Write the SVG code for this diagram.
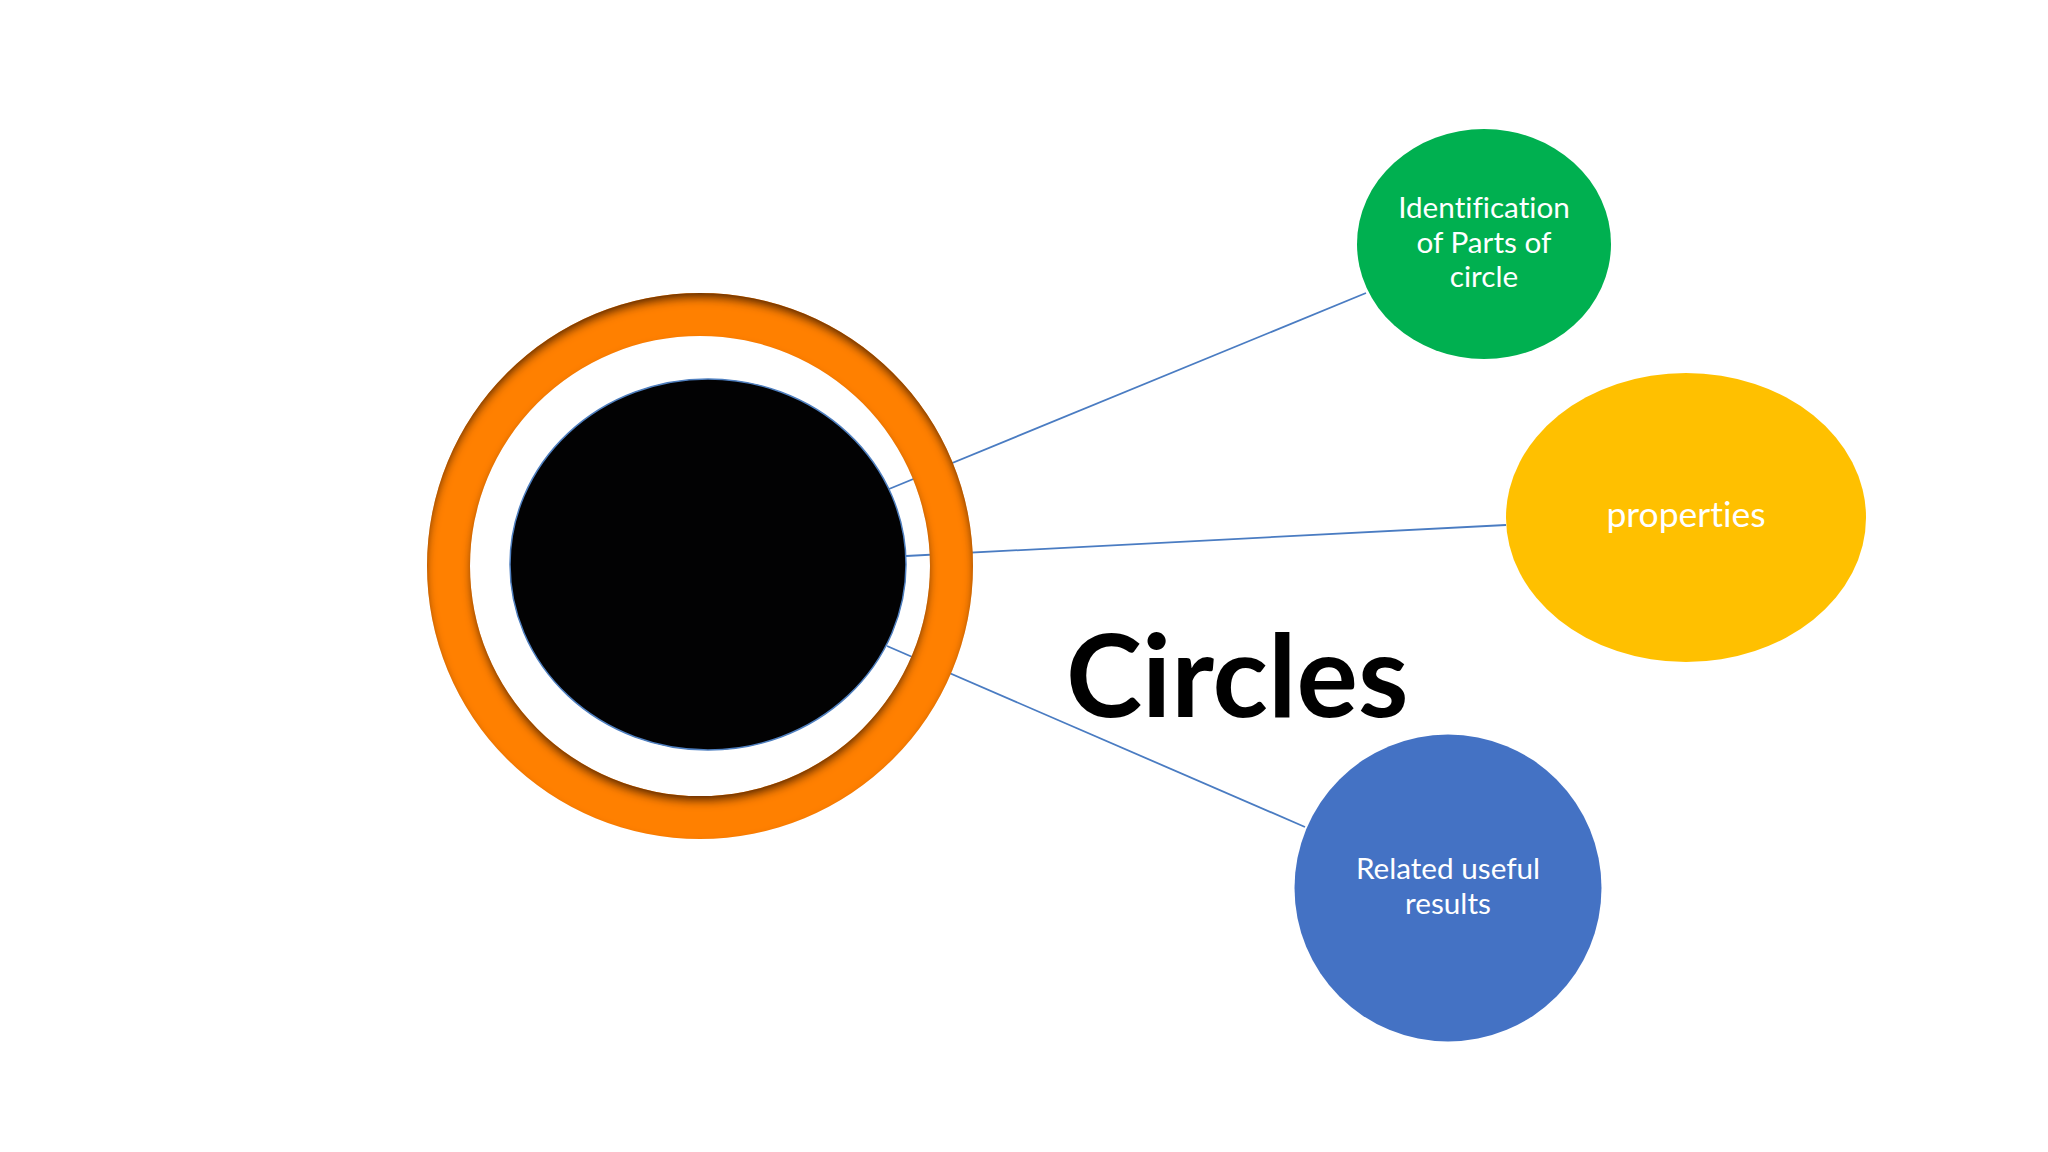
<svg xmlns="http://www.w3.org/2000/svg" width="2048" height="1152" viewBox="0 0 2048 1152">
<style>
.conn{stroke:#4A7CC2;stroke-width:1.8;fill:none}
.lbl{font-family:Lato,"Open Sans","Liberation Sans",sans-serif;font-size:29.7px;fill:#FFFFFF;text-anchor:middle;font-variant-ligatures:none;font-feature-settings:"liga" 0,"dlig" 0,"clig" 0}
.big{font-size:35.5px}
.title{font-family:Lato,"Open Sans","Liberation Sans",sans-serif;font-weight:bold;font-size:115px;fill:#000000;font-variant-ligatures:none}
</style>
<defs>
<filter id="innerShadow" x="-10%" y="-10%" width="120%" height="120%">
<feComponentTransfer in="SourceAlpha" result="inv"><feFuncA type="table" tableValues="1 0"/></feComponentTransfer>
<feGaussianBlur in="inv" stdDeviation="4"/>
<feOffset dx="0" dy="6" result="ob"/>
<feFlood flood-color="#4A2200" flood-opacity="0.95"/>
<feComposite in2="ob" operator="in"/>
<feComposite in2="SourceAlpha" operator="in" result="sh"/>
<feMerge><feMergeNode in="SourceGraphic"/><feMergeNode in="sh"/></feMerge>
</filter>
</defs>
<rect width="2048" height="1152" fill="#FFFFFF"/>
<g id="connectors">
<line class="conn" x1="889" y1="489" x2="1366" y2="293"/>
<line class="conn" x1="906" y1="556" x2="1506" y2="525"/>
<line class="conn" x1="887" y1="646" x2="1305" y2="827"/>
</g>
<g id="node-center">
<path d="M427,566 a273,273 0 1,0 546,0 a273,273 0 1,0 -546,0 Z M470,566 a230,230 0 1,1 460,0 a230,230 0 1,1 -460,0 Z" fill="#FF8000" fill-rule="evenodd" filter="url(#innerShadow)"/>
<ellipse cx="708" cy="564.5" rx="198" ry="185.5" fill="#020203" stroke="#4F7FBF" stroke-width="1.5"/>
</g>
<g id="node-identification">
<ellipse cx="1484" cy="244" rx="127" ry="115" fill="#00B050"/>
<text class="lbl" x="1484" y="218">Identification</text>
<text class="lbl" x="1484" y="253">of Parts of</text>
<text class="lbl" x="1484" y="287">circle</text>
</g>
<g id="node-properties">
<ellipse cx="1686" cy="517.5" rx="180" ry="144.5" fill="#FFC000"/>
<text class="lbl big" x="1686" y="527">properties</text>
</g>
<g id="node-results">
<circle cx="1448" cy="888" r="153.5" fill="#4472C4"/>
<text class="lbl" x="1448" y="879">Related useful</text>
<text class="lbl" x="1448" y="914">results</text>
</g>
<g id="title">
<text class="title" x="1066" y="717">Circles</text>
</g>
</svg>
